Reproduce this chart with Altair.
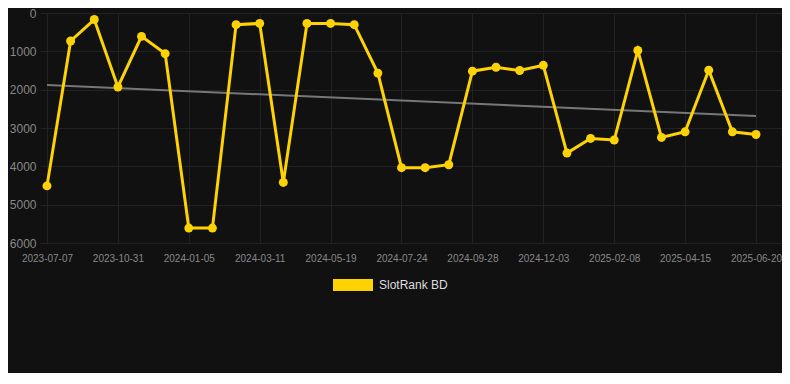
import altair as alt
import pandas as pd

dates = [
    "2023-07-07", "2023-08-15", "2023-09-23", "2023-10-31", "2023-11-22", "2023-12-14",
    "2024-01-05", "2024-01-27", "2024-02-18", "2024-03-11", "2024-04-03", "2024-04-26",
    "2024-05-19", "2024-06-10", "2024-07-02", "2024-07-24", "2024-08-15", "2024-09-06",
    "2024-09-28", "2024-10-20", "2024-11-11", "2024-12-03", "2024-12-25", "2025-01-17",
    "2025-02-08", "2025-03-02", "2025-03-24", "2025-04-15", "2025-05-07", "2025-05-29",
    "2025-06-20",
]
ranks = [
    4510, 730, 170, 1930, 610, 1060,
    5610, 5610, 305, 272, 4420, 272,
    272, 305, 1568, 4035, 4035, 3958,
    1517, 1415, 1500, 1365, 3654, 3272,
    3314, 975, 3246, 3100, 1492, 3100,
    3170,
]
series_name = "SlotRank BD"
tick_values = list(range(0, 31, 3))
y_ticks = [0, 1000, 2000, 3000, 4000, 5000, 6000]

GOLD = "#FFD200"

df = pd.DataFrame({
    "i": list(range(len(dates))),
    "date": dates,
    "rank": ranks,
    "series": [series_name] * len(dates),
})

label_expr = "[" + ",".join(f"'{d}'" for d in dates) + "][datum.value]"

x_enc = alt.X(
    "i:Q",
    scale=alt.Scale(domain=[-0.296, 31.1], nice=False, zero=False),
    axis=alt.Axis(
        values=tick_values, labelExpr=label_expr, title=None,
        grid=True, gridColor="#222222", ticks=False, domain=False,
        labelFontSize=10, labelColor="#888888", labelPadding=10,
        labelFont="Liberation Sans",
    ),
)
y_enc = alt.Y(
    "rank:Q",
    scale=alt.Scale(domain=[0, 6000], reverse=True, nice=False),
    axis=alt.Axis(
        values=y_ticks, format="d", title=None, grid=True, gridColor="#222222",
        ticks=False, domain=False, labelFontSize=12, labelColor="#888888",
        labelPadding=4, labelFont="Liberation Sans",
    ),
)

base = alt.Chart(df)

trend = base.transform_regression("i", "rank").mark_line(
    color="#777777", strokeWidth=2
).encode(x=x_enc, y=y_enc)

line = base.mark_line(color=GOLD, strokeWidth=3).encode(x=x_enc, y=y_enc)

points = base.mark_circle(size=80, opacity=1).encode(
    x=x_enc,
    y=y_enc,
    color=alt.Color(
        "series:N",
        scale=alt.Scale(domain=[series_name], range=[GOLD]),
        legend=alt.Legend(
            title=None, orient="none", legendX=293, legendY=252,
            symbolType="M-1,-0.3H1V0.3H-1Z", symbolSize=1600,
            symbolStrokeWidth=0, symbolOpacity=1, padding=0,
            labelFontSize=12, labelColor="#dddddd", labelOffset=6,
            labelFont="Liberation Sans",
        ),
    ),
)

chart = (
    alt.layer(trend, line, points)
    .properties(
        width=742, height=230, background="#111111",
        autosize=alt.AutoSizeParams(type="none"),
        padding={"left": 32, "top": 5, "right": 0, "bottom": 130},
    )
    .configure_view(stroke=None)
)

chart.save("out.html", embed_options={"renderer": "svg", "actions": False})
